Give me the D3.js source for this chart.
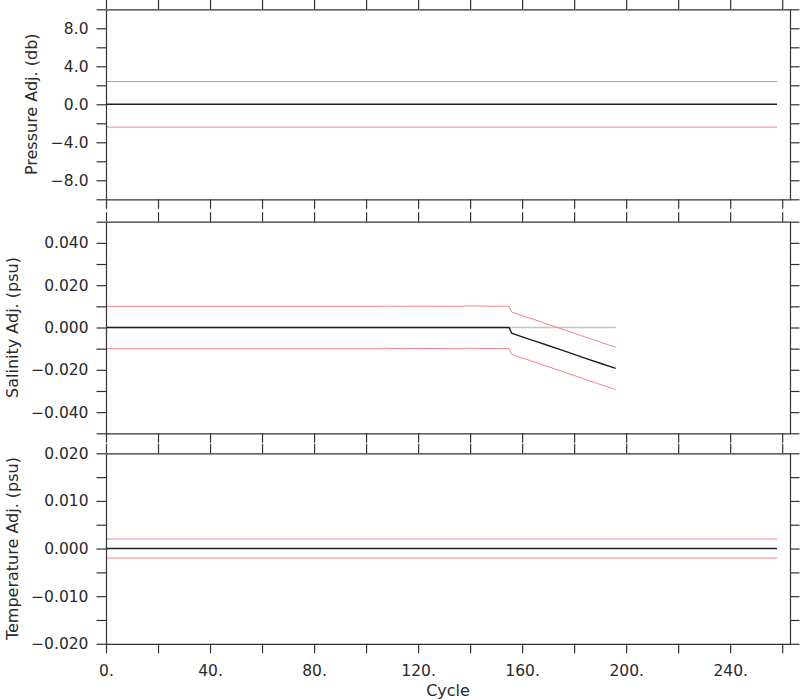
<!DOCTYPE html>
<html>
<head>
<meta charset="utf-8">
<script src="https://cdn.jsdelivr.net/npm/d3@7"></script>
<style>
  html, body { margin: 0; padding: 0; background: #fff; }
  svg { display: block; }
  text { font-family: "DejaVu Sans", sans-serif; fill: #2a2a2a; }
</style>
</head>
<body>
<svg id="chart" width="800" height="700"></svg>
<script>
// ---------------- data ----------------
const cycleTicks = [0, 20, 40, 60, 80, 100, 120, 140, 160, 180, 200, 220, 240, 260];
const cycleLabelValues = [0, 40, 80, 120, 160, 200, 240];
const cycleLabels = ["0.", "40.", "80.", "120.", "160.", "200.", "240."];
const cycleDomain = [0, 263];

// Pressure
const pressureTicks = [-10, -8, -6, -4, -2, 0, 2, 4, 6, 8, 10];
const pressureLabelValues = [-8, -4, 0, 4, 8];
const pressureLabels = ["\u22128.0", "\u22124.0", "0.0", "4.0", "8.0"];
const pressureCycles = [0, 258];
const pressureAdj = [0, 0];
const pressureErrUpper = [2.4, 2.4];
const pressureErrLower = [-2.4, -2.4];

// Salinity
const salinityTicks = [-0.05, -0.04, -0.03, -0.02, -0.01, 0, 0.01, 0.02, 0.03, 0.04, 0.05];
const salinityLabelValues = [-0.04, -0.02, 0, 0.02, 0.04];
const salinityLabels = ["\u22120.040", "\u22120.020", "0.000", "0.020", "0.040"];
const salinityRawCycles = [0, 196];
const salinityRaw = [0, 0];
const salinityCycles = [0, 106, 107, 108, 109, 116, 117, 137, 138, 155, 156, 160, 165, 170, 175, 180, 185, 190, 196];
const salinityAdj = [0, 0, 0, 0, 0, 0, 0, 0, 0, 0, -0.0027, -0.0044, -0.0064, -0.0085, -0.0106, -0.0127, -0.0148, -0.0169, -0.0193];
const salinityErrUpper = [0.0100, 0.0100, 0.0103, 0.0100, 0.0101, 0.0100, 0.0101, 0.0100, 0.0102, 0.0100, 0.0073, 0.0056, 0.0036, 0.0015, -0.0006, -0.0027, -0.0048, -0.0069, -0.0093];
const salinityErrLower = [-0.0100, -0.0100, -0.0097, -0.0100, -0.0099, -0.0100, -0.0099, -0.0100, -0.0098, -0.0100, -0.0127, -0.0144, -0.0164, -0.0185, -0.0206, -0.0227, -0.0248, -0.0269, -0.0293];

// Temperature
const temperatureTicks = [-0.02, -0.015, -0.01, -0.005, 0, 0.005, 0.01, 0.015, 0.02];
const temperatureLabelValues = [-0.02, -0.01, 0, 0.01, 0.02];
const temperatureLabels = ["\u22120.020", "\u22120.010", "0.000", "0.010", "0.020"];
const temperatureCycles = [0, 258];
const temperatureAdj = [0, 0];
const temperatureErrUpper = [0.002, 0.002];
const temperatureErrLower = [-0.002, -0.002];

// ---------------- layout ----------------
const svg = d3.select("#chart");
const left = 106, right = 790;
const tickLen = 9.5;
const axisColor = "#333";
const redColor = "#f28686";
const blackColor = "#1e1e1e";
const greyColor = "#c4c4c4";

const x = d3.scaleLinear().domain(cycleDomain).range([left, right]);

const panels = [
  { title: "Pressure Adj. (db)", top: 9.3, bottom: 199.3, domain: [-10, 10], titleX: 31,
    ticks: pressureTicks, labelValues: pressureLabelValues, labels: pressureLabels,
    series: [
      { cycles: pressureCycles, values: pressureErrUpper, color: redColor, width: 1 },
      { cycles: pressureCycles, values: pressureErrLower, color: redColor, width: 1 },
      { cycles: pressureCycles, values: pressureAdj, color: blackColor, width: 1.4 }
    ] },
  { title: "Salinity Adj. (psu)", top: 221.7, bottom: 433.3, domain: [-0.05, 0.05], titleX: 12,
    ticks: salinityTicks, labelValues: salinityLabelValues, labels: salinityLabels,
    series: [
      { cycles: salinityRawCycles, values: salinityRaw, color: greyColor, width: 1.5 },
      { cycles: salinityCycles, values: salinityErrUpper, color: redColor, width: 1 },
      { cycles: salinityCycles, values: salinityErrLower, color: redColor, width: 1 },
      { cycles: salinityCycles, values: salinityAdj, color: blackColor, width: 1.4 }
    ] },
  { title: "Temperature Adj. (psu)", top: 453.3, bottom: 643.8, domain: [-0.02, 0.02], titleX: 12,
    ticks: temperatureTicks, labelValues: temperatureLabelValues, labels: temperatureLabels,
    series: [
      { cycles: temperatureCycles, values: temperatureErrUpper, color: redColor, width: 1 },
      { cycles: temperatureCycles, values: temperatureErrLower, color: redColor, width: 1 },
      { cycles: temperatureCycles, values: temperatureAdj, color: blackColor, width: 1.4 }
    ] }
];

function labelFor(values, labels) {
  return d => {
    const i = values.findIndex(v => Math.abs(v - d) < 1e-9);
    return i >= 0 ? labels[i] : "";
  };
}

function styleAxis(g) {
  g.selectAll("path.domain").attr("stroke", axisColor).attr("stroke-width", 1.2);
  g.selectAll(".tick line").attr("stroke", axisColor).attr("stroke-width", 1.2);
  g.selectAll("text").attr("fill", "#2a2a2a").style("font-family", "DejaVu Sans, sans-serif");
}

panels.forEach((p, idx) => {
  const y = d3.scaleLinear().domain(p.domain).range([p.bottom, p.top]);
  const isLast = idx === panels.length - 1;

  // data lines
  p.series.forEach(s => {
    const pts = s.cycles.map((c, i) => [c, s.values[i]]);
    svg.append("path")
      .datum(pts)
      .attr("fill", "none")
      .attr("stroke", s.color)
      .attr("stroke-width", s.width)
      .attr("d", d3.line().x(d => x(d[0])).y(d => y(d[1])));
  });

  // left axis
  const gl = svg.append("g").attr("transform", `translate(${left},0)`)
    .call(d3.axisLeft(y).tickValues(p.ticks).tickSize(tickLen).tickSizeOuter(0).tickPadding(8)
      .tickFormat(labelFor(p.labelValues, p.labels)));
  gl.selectAll("text").style("font-size", "15.5px");
  styleAxis(gl);

  // right axis
  const gr = svg.append("g").attr("transform", `translate(${right},0)`)
    .call(d3.axisRight(y).tickValues(p.ticks).tickSize(tickLen).tickSizeOuter(0).tickFormat(""));
  styleAxis(gr);

  // top axis
  const gt = svg.append("g").attr("transform", `translate(0,${p.top})`)
    .call(d3.axisTop(x).tickValues(cycleTicks).tickSize(tickLen).tickSizeOuter(0).tickFormat(""));
  styleAxis(gt);

  // bottom axis
  const gb = svg.append("g").attr("transform", `translate(0,${p.bottom})`)
    .call(d3.axisBottom(x).tickValues(cycleTicks).tickSize(tickLen).tickSizeOuter(0).tickPadding(12)
      .tickFormat(isLast ? labelFor(cycleLabelValues, cycleLabels) : ""));
  gb.selectAll("text").style("font-size", "15.5px");
  styleAxis(gb);

  // y title
  svg.append("text")
    .attr("transform", `translate(${p.titleX},${(p.top + p.bottom) / 2}) rotate(-90)`)
    .attr("text-anchor", "middle")
    .attr("dominant-baseline", "central")
    .style("font-size", "16px")
    .text(p.title);
});

// x title
svg.append("text")
  .attr("x", (left + right) / 2)
  .attr("y", 696)
  .attr("text-anchor", "middle")
  .style("font-size", "16px")
  .text("Cycle");
</script>
</body>
</html>
